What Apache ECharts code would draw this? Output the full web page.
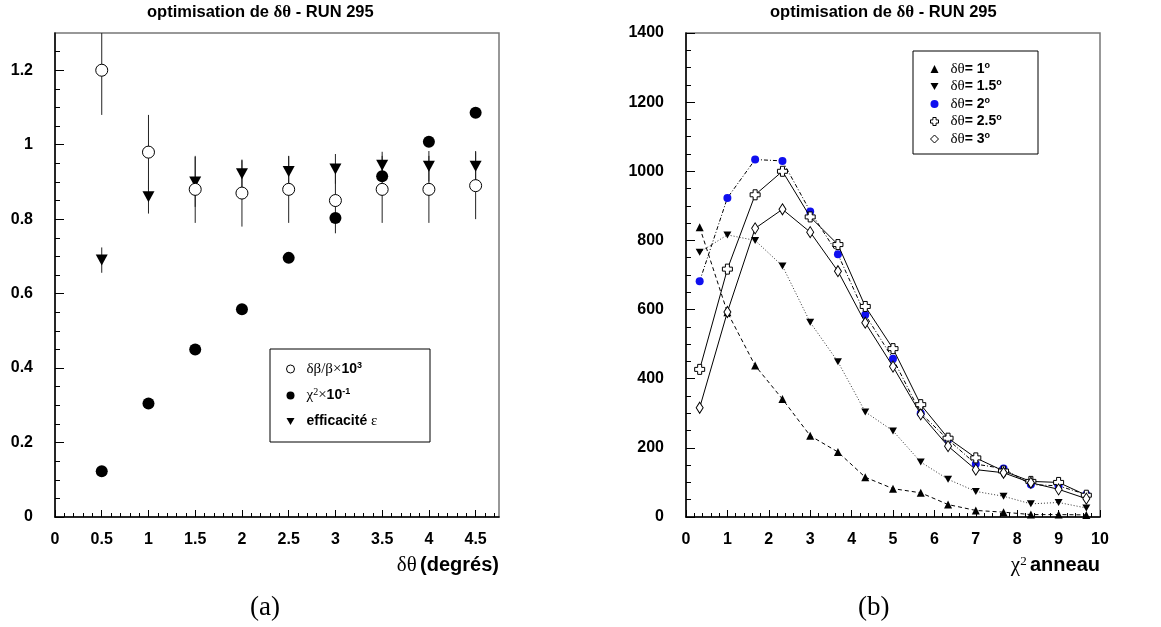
<!DOCTYPE html>
<html>
<head>
<meta charset="utf-8">
<script src="https://cdn.jsdelivr.net/npm/echarts@6/dist/echarts.min.js"></script>
<style>
  html, body { margin: 0; padding: 0; background: #fff; }
  #chart { width: 1161px; height: 627px; }
</style>
</head>
<body>
<div id="chart"></div>
<script>
// (a) optimisation de dtheta
const dTheta = [0.5, 1, 1.5, 2, 2.5, 3, 3.5, 4, 4.5];
const resolution = [1.20, 0.98, 0.88, 0.87, 0.88, 0.85, 0.88, 0.88, 0.89];
const resolutionErr = [0.12, 0.10, 0.09, 0.09, 0.09, 0.088, 0.09, 0.09, 0.09];
const chi2 = [0.123, 0.305, 0.450, 0.558, 0.696, 0.803, 0.915, 1.008, 1.086];
const efficiency = [0.69, 0.86, 0.90, 0.922, 0.928, 0.935, 0.945, 0.942, 0.942];
const efficiencyErr = [0.034, 0.045, 0.067, 0.036, 0.041, 0.04, 0.036, 0.041, 0.041];
const xTicksA = [0, 0.5, 1, 1.5, 2, 2.5, 3, 3.5, 4, 4.5];
const yTicksA = [0, 0.2, 0.4, 0.6, 0.8, 1, 1.2];

// (b) distribution du chi2 anneau
const chi2Ring = [0.33, 1, 1.67, 2.33, 3, 3.67, 4.33, 5, 5.67, 6.33, 7, 7.67, 8.33, 9, 9.67];
const dt1 = [838, 592, 438, 341, 235, 188, 115, 82, 70, 36, 19, 14, 7, 7, 6];
const dt15 = [766, 816, 800, 726, 563, 449, 304, 249, 159, 109, 74, 60, 38, 42, 26];
const dt2 = [682, 923, 1034, 1030, 884, 760, 585, 458, 300, 224, 153, 140, 94, 90, 65];
const dt25 = [427, 717, 932, 1000, 868, 788, 609, 487, 325, 228, 171, 133, 103, 100, 63];
const dt3 = [316, 593, 835, 890, 824, 711, 562, 435, 297, 205, 137, 128, 99, 80, 53];

const SANS = 'Liberation Sans, Arial, sans-serif';
const SERIF = 'Liberation Serif, Times New Roman, serif';
const TRI_DOWN = 'path://M0,0 L10,0 L5,9 Z';
const CROSS = 'path://M3,0 H7 V3 H10 V7 H7 V10 H3 V7 H0 V3 H3 Z';

// petits traits de graduation
const minorX = [], minorY = [];
for (let i = 0; i <= 47; i++) minorX.push(Math.round(i * 10) / 100);
for (let i = 0; i <= 25; i++) minorY.push(Math.round(i * 5) / 100);

const pair = (xs, ys) => xs.map((x, i) => [x, ys[i]]);
const bars = (xs, ys, es) => xs.map((x, i) => [x, ys[i] - es[i], ys[i] + es[i]]);

function errorBar(params, api) {
  const p1 = api.coord([api.value(0), api.value(1)]);
  const p2 = api.coord([api.value(0), api.value(2)]);
  return {
    type: 'line',
    shape: { x1: p1[0], y1: p1[1], x2: p2[0], y2: p2[1] },
    style: { stroke: '#222', lineWidth: 1 }
  };
}

const richText = {
  sp: { width: 7 },
  g: { fontFamily: SERIF, fontSize: 15, color: '#000', lineHeight: 16 },
  b: { fontFamily: SANS, fontWeight: 'bold', fontSize: 14, color: '#000', lineHeight: 16 },
  sup: { fontFamily: SANS, fontWeight: 'bold', fontSize: 9, color: '#000', verticalAlign: 'top', lineHeight: 9 },
  gsup: { fontFamily: SERIF, fontSize: 10, color: '#000', verticalAlign: 'top', lineHeight: 9 }
};

const legendA = {
  resolution: '{sp|}{g|δβ/β×}{b|10}{sup|3}',
  chi2: '{sp|}{g|χ}{gsup|2}{g|×}{b|10}{sup|-1}',
  efficacite: '{sp|}{b|efficacité }{g|ε}'
};
const legendB = {
  d1: '{sp|}{g|δθ}{b|= 1}{sup|o}',
  d15: '{sp|}{g|δθ}{b|= 1.5}{sup|o}',
  d2: '{sp|}{g|δθ}{b|= 2}{sup|o}',
  d25: '{sp|}{g|δθ}{b|= 2.5}{sup|o}',
  d3: '{sp|}{g|δθ}{b|= 3}{sup|o}'
};

const axisLine = { lineStyle: { color: '#000', width: 1.5 } };
const labelStyle = { color: '#000', fontFamily: SANS, fontWeight: 'bold', fontSize: 16, formatter: v => String(v) };
const titleStyle = {
  fontFamily: SANS, fontWeight: 'bold', fontSize: 16.5, color: '#000',
  rich: { g: { fontFamily: SERIF, fontSize: 17, color: '#000' } }
};

const myChart = echarts.init(document.getElementById('chart'));
const option = {
  backgroundColor: '#fff',
  animation: false,
  title: [
    { text: 'optimisation de {g|δθ} - RUN 295', left: 147, top: 4, padding: 0, textStyle: titleStyle },
    { text: 'optimisation de {g|δθ} - RUN 295', left: 770, top: 4, padding: 0, textStyle: titleStyle },
    { text: '(a)', left: 250, top: 594, padding: 0,
      textStyle: { fontFamily: SERIF, fontWeight: 'normal', fontSize: 27, color: '#000' } },
    { text: '(b)', left: 858, top: 594, padding: 0,
      textStyle: { fontFamily: SERIF, fontWeight: 'normal', fontSize: 27, color: '#000' } }
  ],
  grid: [
    { left: 55, top: 33, width: 444, height: 484, show: true, borderColor: '#777', borderWidth: 1.5 },
    { left: 686, top: 33, width: 414, height: 484, show: true, borderColor: '#777', borderWidth: 1.5 }
  ],
  legend: [
    {
      orient: 'vertical', left: 286, top: 361, itemWidth: 8, itemHeight: 8, itemGap: 11, padding: 0,
      data: [
        { name: 'resolution', icon: 'circle', itemStyle: { color: '#fff', borderColor: '#000', borderWidth: 1 } },
        { name: 'chi2', icon: 'circle', itemStyle: { color: '#000' } },
        { name: 'efficacite', icon: TRI_DOWN, itemStyle: { color: '#000' } }
      ],
      formatter: name => legendA[name],
      textStyle: { rich: richText }
    },
    {
      orient: 'vertical', left: 930, top: 61, itemWidth: 8, itemHeight: 8, itemGap: 2, padding: 0,
      data: [
        { name: 'd1', icon: 'triangle', itemStyle: { color: '#000' } },
        { name: 'd15', icon: TRI_DOWN, itemStyle: { color: '#000' } },
        { name: 'd2', icon: 'circle', itemStyle: { color: '#0f0fef' } },
        { name: 'd25', icon: CROSS, itemStyle: { color: '#fff', borderColor: '#000', borderWidth: 1 } },
        { name: 'd3', icon: 'diamond', itemStyle: { color: '#fff', borderColor: '#000', borderWidth: 1 } }
      ],
      formatter: name => legendB[name],
      textStyle: { rich: richText }
    }
  ],
  graphic: [
    { type: 'rect', shape: { x: 270, y: 349, width: 160, height: 93 },
      style: { fill: 'none', stroke: '#000', lineWidth: 1 }, z: 10 },
    { type: 'rect', shape: { x: 913, y: 51, width: 125, height: 103 },
      style: { fill: 'none', stroke: '#000', lineWidth: 1 }, z: 10 }
  ],
  xAxis: [
    {
      gridIndex: 0, type: 'value', min: 0, max: 4.75, position: 'bottom',
      axisLine: axisLine, splitLine: { show: false },
      axisTick: { inside: true, length: 7, customValues: xTicksA, lineStyle: { color: '#000' } },
      axisLabel: { customValues: xTicksA, margin: 15, ...labelStyle },
      name: '{g|δθ} {b|(degrés)}', nameLocation: 'end', nameGap: 0,
      nameTextStyle: {
        align: 'right', verticalAlign: 'top', padding: [38, 0, 0, 0],
        rich: {
          g: { fontFamily: SERIF, fontSize: 21, color: '#000' },
          b: { fontFamily: SANS, fontWeight: 'bold', fontSize: 20, color: '#000' }
        }
      }
    },
    {
      gridIndex: 0, type: 'value', min: 0, max: 4.75, position: 'bottom',
      axisLine: { show: false }, splitLine: { show: false }, axisLabel: { show: false },
      axisTick: { inside: true, length: 4, customValues: minorX, lineStyle: { color: '#000' } }
    },
    {
      gridIndex: 1, type: 'value', min: 0, max: 10, interval: 1,
      axisLine: axisLine, splitLine: { show: false },
      axisTick: { inside: true, length: 7, lineStyle: { color: '#000' } },
      minorTick: { show: true, splitNumber: 5, length: 4, lineStyle: { color: '#000' } },
      axisLabel: { margin: 15, ...labelStyle },
      name: '{g|χ}{gs|2} {b|anneau}', nameLocation: 'end', nameGap: 0,
      nameTextStyle: {
        align: 'right', verticalAlign: 'top', padding: [38, 0, 0, 0],
        rich: {
          g: { fontFamily: SERIF, fontSize: 21, color: '#000' },
          gs: { fontFamily: SERIF, fontSize: 13, color: '#000', verticalAlign: 'top', lineHeight: 12 },
          b: { fontFamily: SANS, fontWeight: 'bold', fontSize: 20, color: '#000' }
        }
      }
    }
  ],
  yAxis: [
    {
      gridIndex: 0, type: 'value', min: 0, max: 1.3, position: 'left',
      axisLine: axisLine, splitLine: { show: false },
      axisTick: { inside: true, length: 9, customValues: yTicksA, lineStyle: { color: '#000' } },
      axisLabel: { customValues: yTicksA, margin: 22, ...labelStyle }
    },
    {
      gridIndex: 0, type: 'value', min: 0, max: 1.3, position: 'left',
      axisLine: { show: false }, splitLine: { show: false }, axisLabel: { show: false },
      axisTick: { inside: true, length: 5, customValues: minorY, lineStyle: { color: '#000' } }
    },
    {
      gridIndex: 1, type: 'value', min: 0, max: 1400, interval: 200,
      axisLine: axisLine, splitLine: { show: false },
      axisTick: { inside: true, length: 9, lineStyle: { color: '#000' } },
      minorTick: { show: true, splitNumber: 4, length: 5, lineStyle: { color: '#000' } },
      axisLabel: { margin: 22, ...labelStyle }
    }
  ],
  series: [
    // graphique (a)
    { type: 'custom', name: 'errRes', xAxisIndex: 0, yAxisIndex: 0, clip: true, z: 1,
      renderItem: errorBar, data: bars(dTheta, resolution, resolutionErr) },
    { type: 'custom', name: 'errEff', xAxisIndex: 0, yAxisIndex: 0, clip: true, z: 1,
      renderItem: errorBar, data: bars(dTheta, efficiency, efficiencyErr) },
    { type: 'scatter', name: 'chi2', xAxisIndex: 0, yAxisIndex: 0, z: 3,
      symbol: 'circle', symbolSize: 12, itemStyle: { color: '#000', opacity: 1 },
      data: pair(dTheta, chi2) },
    { type: 'scatter', name: 'efficacite', xAxisIndex: 0, yAxisIndex: 0, z: 3,
      symbol: TRI_DOWN, symbolSize: [12, 11], itemStyle: { color: '#000', opacity: 1 },
      data: pair(dTheta, efficiency) },
    { type: 'scatter', name: 'resolution', xAxisIndex: 0, yAxisIndex: 0, z: 4,
      symbol: 'circle', symbolSize: 12,
      itemStyle: { color: '#fff', borderColor: '#000', borderWidth: 1, opacity: 1 },
      data: pair(dTheta, resolution) },
    // graphique (b)
    { type: 'line', name: 'd1', xAxisIndex: 2, yAxisIndex: 2, symbol: 'triangle', symbolSize: 8,
      itemStyle: { color: '#000' }, lineStyle: { color: '#000', width: 1, type: [4, 3] },
      data: pair(chi2Ring, dt1) },
    { type: 'line', name: 'd15', xAxisIndex: 2, yAxisIndex: 2, symbol: TRI_DOWN, symbolSize: [8, 7],
      itemStyle: { color: '#000' }, lineStyle: { color: '#333', width: 1, type: [1, 2] },
      data: pair(chi2Ring, dt15) },
    { type: 'line', name: 'd2', xAxisIndex: 2, yAxisIndex: 2, symbol: 'circle', symbolSize: 8,
      itemStyle: { color: '#0f0fef' }, lineStyle: { color: '#000', width: 1, type: [4, 2, 1, 2] },
      data: pair(chi2Ring, dt2) },
    { type: 'line', name: 'd25', xAxisIndex: 2, yAxisIndex: 2, symbol: CROSS, symbolSize: 10, z: 4,
      itemStyle: { color: '#fff', borderColor: '#000', borderWidth: 1 },
      lineStyle: { color: '#000', width: 1 },
      data: pair(chi2Ring, dt25) },
    { type: 'line', name: 'd3', xAxisIndex: 2, yAxisIndex: 2, symbol: 'diamond', symbolSize: [7, 11], z: 4,
      itemStyle: { color: '#fff', borderColor: '#000', borderWidth: 1 },
      lineStyle: { color: '#000', width: 1 },
      data: pair(chi2Ring, dt3) }
  ]
};
myChart.setOption(option);
</script>
</body>
</html>
